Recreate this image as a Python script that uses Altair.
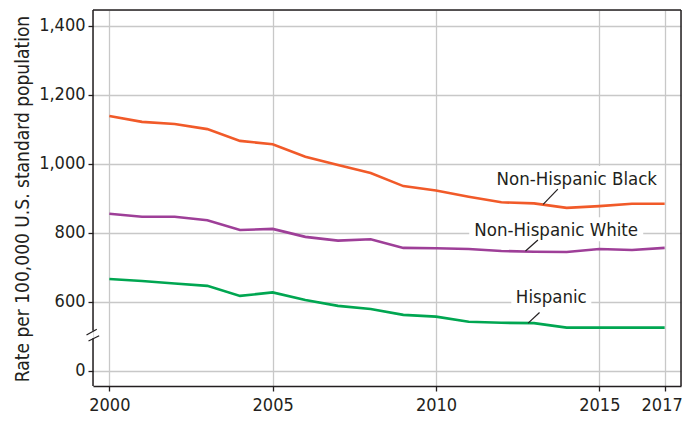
import altair as alt
import pandas as pd

# ---- data ----
years = list(range(2000, 2018))
black = [1138, 1121, 1115, 1100, 1066, 1056, 1020, 996, 973, 935, 922, 904, 888, 885, 872, 877, 884, 884]
white = [855, 846, 846, 836, 808, 811, 788, 777, 781, 756, 755, 753, 747, 745, 744, 753, 750, 756]
hispanic = [666, 660, 653, 646, 617, 627, 605, 588, 579, 562, 557, 542, 539, 538, 525, 525, 525, 525]

series_names = ["Non-Hispanic Black", "Non-Hispanic White", "Hispanic"]
series_colors = ["#F15A29", "#9E3F98", "#00A651"]

x_ticks = [2000, 2005, 2010, 2015, 2017]
# broken axis: the "0" tick is drawn at the 400 position
y_ticks = [400, 600, 800, 1000, 1200, 1400]
y_tick_labels = ["0", "600", "800", "1,000", "1,200", "1,400"]
y_title = "Rate per 100,000 U.S. standard population"

# label anchors (year, value at text baseline)
label_x = [2014.31, 2013.68, 2013.53]
label_y = [938, 790, 596]
# leader lines (year1, value1, year2, value2)
leader_x1 = [2013.28, 2012.74, 2012.82]
leader_y1 = [882, 747, 538]
leader_x2 = [2013.73, 2013.12, 2013.17]
leader_y2 = [926, 779, 569]

FONT = "DejaVu Sans Condensed, sans-serif"
INK = "#231f20"
GRID = "#c8c8c8"
W, H = 588, 376

rows = []
for name, vals in zip(series_names, [black, white, hispanic]):
    for yr, v in zip(years, vals):
        rows.append({"year": yr, "value": v, "series": name})
df = pd.DataFrame(rows)

labels_df = pd.DataFrame({"series": series_names, "x": label_x, "y": label_y})
leaders_df = pd.DataFrame({"series": series_names, "x1": leader_x1, "y1": leader_y1,
                           "x2": leader_x2, "y2": leader_y2})

label_map = "{" + ",".join(f"'{v}':'{l}'" for v, l in zip(y_ticks, y_tick_labels)) + "}"

xscale = alt.Scale(domain=[1999.5, 2017.5], nice=False, zero=False)
yscale = alt.Scale(domain=[356, 1445], nice=False, zero=False)
cscale = alt.Scale(domain=series_names, range=series_colors)

xaxis = alt.Axis(values=x_ticks, format="d", title=None, grid=True, gridColor=GRID, gridWidth=1.3,
                 domain=True, domainColor=INK, domainWidth=1.5, tickColor=INK, tickSize=5, tickWidth=1.3,
                 labelFont=FONT, labelFontSize=18, labelColor=INK, labelPadding=5, labelFlush=False,
                 labelOffset={"condition": {"test": "datum.value == 2017", "value": -3}, "value": 0})
yaxis = alt.Axis(values=y_ticks, labelExpr=f"{label_map}[datum.value]", title=y_title,
                 grid=True, gridColor=GRID, gridWidth=1.3, domain=False,
                 tickColor=INK, tickSize=5, tickWidth=1.3,
                 labelFont=FONT, labelFontSize=18, labelColor=INK, labelPadding=3,
                 titleFont=FONT, titleFontSize=19, titleFontWeight="normal", titleColor=INK,
                 titleAngle=270, titleAlign="center", titleBaseline="alphabetic",
                 titleX=-65, titleY=188.5)

lines = alt.Chart(df).mark_line(strokeWidth=2.6).encode(
    x=alt.X("year:Q", scale=xscale, axis=xaxis),
    y=alt.Y("value:Q", scale=yscale, axis=yaxis),
    color=alt.Color("series:N", scale=cscale, legend=None),
)

bg_sizes = {"Non-Hispanic Black": 168, "Non-Hispanic White": 174, "Hispanic": 80}
bgs = []
for name, wd in bg_sizes.items():
    bgs.append(
        alt.Chart(labels_df).transform_filter(alt.datum.series == name)
        .mark_rect(color="white", width=wd, height=24, yOffset=-7)
        .encode(x=alt.X("x:Q", scale=xscale), y=alt.Y("y:Q", scale=yscale))
    )

texts = alt.Chart(labels_df).mark_text(font=FONT, fontSize=18.5, color=INK, align="center",
                                       baseline="alphabetic").encode(
    x=alt.X("x:Q", scale=xscale), y=alt.Y("y:Q", scale=yscale), text="series:N")

leaders = alt.Chart(leaders_df).mark_rule(color=INK, strokeWidth=1.2).encode(
    x=alt.X("x1:Q", scale=xscale), y=alt.Y("y1:Q", scale=yscale),
    x2="x2:Q", y2="y2:Q")

frame_style = dict(color=INK, strokeWidth=1.5)
top = alt.Chart().mark_rule(**frame_style).encode(x=alt.value(0), x2=alt.value(W), y=alt.value(0))
right = alt.Chart().mark_rule(**frame_style).encode(x=alt.value(W), y=alt.value(0), y2=alt.value(H))
left_up = alt.Chart().mark_rule(**frame_style).encode(x=alt.value(0), y=alt.value(0), y2=alt.value(320.7))
left_lo = alt.Chart().mark_rule(**frame_style).encode(x=alt.value(0), y=alt.value(328.3), y2=alt.value(H))
slash1 = alt.Chart().mark_rule(color=INK, strokeWidth=1.2).encode(
    x=alt.value(-6.5), y=alt.value(325), x2=alt.value(3.8), y2=alt.value(319.3))
slash2 = alt.Chart().mark_rule(color=INK, strokeWidth=1.2).encode(
    x=alt.value(-4.5), y=alt.value(331), x2=alt.value(6.2), y2=alt.value(325.7))

chart = alt.layer(lines, *bgs, texts, leaders, top, right, left_up, left_lo, slash1, slash2).properties(
    width=W, height=H,
    autosize=alt.AutoSizeParams(type="none"),
    padding={"left": 85, "top": 2, "right": 1, "bottom": 30},
).configure_view(stroke=None).configure(background="white")

chart.save("out.html", embed_options={"renderer": "svg", "actions": False})
